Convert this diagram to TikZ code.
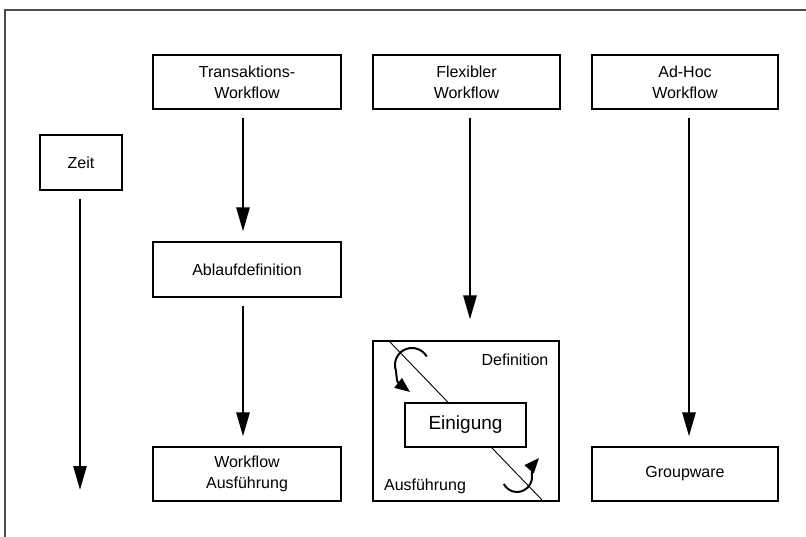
\documentclass[tikz,border=0pt]{standalone}
\usepackage{fontspec}
\setmainfont{Liberation Sans}
\usetikzlibrary{arrows.meta}
\tikzset{
  box/.style={draw=black, line width=1.1pt, fill=white, inner sep=0pt, align=center,
    font=\fontsize{16}{21}\selectfont},
  arr/.style={line width=2.7pt, -{Triangle[length=24pt,width=13pt]}},
  carr/.style={line width=2pt, -{Triangle[length=15pt,width=12pt]}},
  lbl/.style={inner sep=0pt, font=\fontsize{16}{21}\selectfont}
}
\begin{document}
\begin{tikzpicture}[x=1pt,y=-1pt]
\useasboundingbox (0,0) rectangle (806,537);
% outer frame (partly visible)
\draw[line width=1.2pt, black!70] (806,10) -- (5,10) -- (5,537);

% boxes
\node[box, minimum width=188pt, minimum height=54pt] (trans) at (247,82) {Transaktions-\\Workflow};
\node[box, minimum width=187pt, minimum height=54pt] (flex) at (466.5,82) {Flexibler\\Workflow};
\node[box, minimum width=186pt, minimum height=54pt] (adhoc) at (685,82) {Ad-Hoc\\Workflow};
\node[box, minimum width=82pt, minimum height=55pt] (zeit) at (81,162.5) {Zeit};
\node[box, minimum width=188pt, minimum height=55pt] (ablauf) at (247,269.5) {Ablaufdefinition};
\node[box, minimum width=188pt, minimum height=54pt] (wfaus) at (247,474) {Workflow\\Ausführung};
\node[box, minimum width=186pt, minimum height=160pt] (big) at (466,421) {};
\node[box, minimum width=186pt, minimum height=54pt] (group) at (685,474) {Groupware};

% diagonal line in the big box
\coordinate (d1) at (389,341);
\coordinate (d2) at (544,502);
\draw[line width=0.9pt] (d1) -- (d2);

\node[box, minimum width=121pt, minimum height=44pt, font=\fontsize{19}{23}\selectfont] (einig) at (465.5,425) {Einigung};

\node[lbl] (deflbl) at (515,360) {Definition};
\node[lbl] (auslbl) at (425,486) {Ausführung};

% curved arrows
\draw[carr] (426.7,356.5) arc[start angle=-30, end angle=-200, radius=17] .. controls (397,382) .. (410,392);
\draw[carr] (503.8,484) arc[start angle=152, end angle=-5, radius=15] .. controls (532,466) .. (539,458);

% straight arrows
\coordinate (zeitend) at (80,490);
\draw[arr] ([xshift=-1pt,yshift=-8pt]zeit.south) -- (zeitend);
\draw[arr] ([xshift=-4pt,yshift=-8pt]trans.south) -- ([xshift=-4pt,yshift=10pt]ablauf.north);
\draw[arr] ([xshift=-4pt,yshift=-8pt]ablauf.south) -- ([xshift=-4pt,yshift=10pt]wfaus.north);
\draw[arr] ([xshift=3.5pt,yshift=-8pt]flex.south) -- ([xshift=4pt,yshift=21pt]big.north);
\draw[arr] ([xshift=4pt,yshift=-8pt]adhoc.south) -- ([xshift=4pt,yshift=10pt]group.north);
\end{tikzpicture}
\end{document}
